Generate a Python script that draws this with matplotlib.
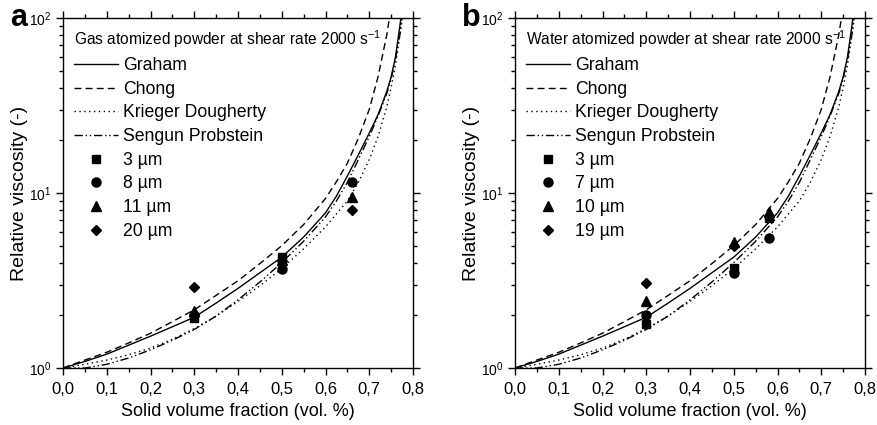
import matplotlib
matplotlib.use('Agg')
import matplotlib.pyplot as plt
from matplotlib.ticker import MultipleLocator, FuncFormatter, LogLocator

plt.rcParams['font.family'] = ['Liberation Sans', 'DejaVu Sans']
plt.rcParams['mathtext.default'] = 'regular'

# model curves, same in both panels
phi = [0, 0.05, 0.1, 0.15, 0.2, 0.25, 0.3, 0.35, 0.4, 0.45, 0.5, 0.55, 0.6,
       0.625, 0.65, 0.675, 0.7, 0.72, 0.74, 0.75, 0.76, 0.77, 0.78]
graham = [1.0, 1.09, 1.20, 1.35, 1.52, 1.72, 1.95, 2.35, 2.85, 3.5, 4.3, 5.6, 7.7,
          9.6, 12.5, 16.5, 22, 28, 38, 46, 60, 90, 140]
chong = [1.0, 1.11, 1.23, 1.39, 1.58, 1.84, 2.15, 2.6, 3.15, 3.95, 5.0, 6.6, 9.3,
         11.6, 14.8, 20.5, 30, 46, 80, 115, 170, 250, 400]
krieger = [1.0, 1.05, 1.11, 1.19, 1.30, 1.46, 1.68, 1.98, 2.4, 2.95, 3.7, 4.8, 6.4,
           7.6, 9.0, 11.5, 15.5, 21, 31, 40, 54, 80, 120]
sengun = [1.0, 1.0, 1.05, 1.14, 1.27, 1.44, 1.66, 1.98, 2.45, 3.1, 4.0, 5.3, 7.3,
          9.0, 11.5, 15.5, 21, 27.5, 37, 45, 58, 80, 125]

# measured points, gas atomized (a)
a_labels = ['3 \u00b5m', '8 \u00b5m', '11 \u00b5m', '20 \u00b5m']
a_x = [[0.3, 0.5], [0.3, 0.5, 0.66], [0.3, 0.5, 0.66], [0.3, 0.5, 0.66]]
a_y = [[1.93, 4.3], [2.0, 3.68, 11.6], [2.12, 4.15, 9.5], [2.9, 4.1, 8.0]]

# measured points, water atomized (b)
b_labels = ['3 \u00b5m', '7 \u00b5m', '10 \u00b5m', '19 \u00b5m']
b_x = [[0.3, 0.5, 0.58], [0.3, 0.5, 0.58], [0.3, 0.5, 0.58], [0.3, 0.5, 0.58]]
b_y = [[1.78, 3.73, 7.2], [2.01, 3.5, 5.5], [2.41, 5.25, 7.8], [3.06, 4.95, 7.4]]

markers = ['s', 'o', '^', 'D']
msizes = [5.5, 6.5, 6.5, 5.5]


def draw_panel(ax, title, labels, xs, ys, letter):
    ax.plot(phi, graham, '-', color='black', lw=1.0, label='Graham')
    ax.plot(phi, chong, color='black', lw=1.0, ls=(0, (5, 3)), label='Chong')
    ax.plot(phi, krieger, color='black', lw=1.0, ls=(0, (1, 2.5)), label='Krieger Dougherty')
    ax.plot(phi, sengun, color='black', lw=1.0, ls=(0, (6, 2, 1, 2, 1, 2)),
            label='Sengun Probstein')
    for lab, x, y, m, ms in zip(labels, xs, ys, markers, msizes):
        ax.plot(x, y, ls='none', marker=m, ms=ms, color='black', label=lab)

    ax.set_yscale('log')
    ax.set_xlim(0, 0.8)
    ax.set_ylim(1, 100)
    ax.xaxis.set_major_locator(MultipleLocator(0.1))
    ax.xaxis.set_minor_locator(MultipleLocator(0.05))
    ax.xaxis.set_major_formatter(FuncFormatter(lambda v, p: f'{v:.1f}'.replace('.', ',')))
    ax.yaxis.set_major_locator(LogLocator(base=10))
    ax.yaxis.set_minor_locator(LogLocator(base=10, subs=range(2, 10)))
    ax.tick_params(which='both', direction='out', top=True, right=True, width=1)
    ax.tick_params(which='major', length=5)
    ax.tick_params(which='minor', length=3)
    ax.tick_params(axis='x', labelsize=12, pad=5)
    ax.tick_params(axis='y', labelsize=10)
    for s in ax.spines.values():
        s.set_linewidth(1.0)
    ax.set_xlabel('Solid volume fraction (vol. %)', fontsize=13)
    ax.xaxis.set_label_coords(0.5, -0.1)
    ax.set_ylabel('Relative viscosity (-)', fontsize=14)
    ax.yaxis.set_label_coords(-0.1, 0.5)

    ax.legend(loc='upper left', frameon=False, fontsize=12.7, title=title,
              title_fontsize=11.2, alignment='left', handlelength=2.5,
              handletextpad=0.3, labelspacing=0.38, borderaxespad=0.2,
              numpoints=1)
    ax.text(-0.152, 1.0, letter, transform=ax.transAxes, fontsize=22,
            fontweight='bold', ha='left', va='center')


fig = plt.figure(figsize=(8.77, 4.25), dpi=100)
ax1 = fig.add_axes([63 / 877, 1 - 368 / 425, 350 / 877, 350 / 425])
ax2 = fig.add_axes([515 / 877, 1 - 368 / 425, 350 / 877, 350 / 425])

draw_panel(ax1, 'Gas atomized powder at shear rate 2000 s$^{-1}$', a_labels, a_x, a_y, 'a')
draw_panel(ax2, 'Water atomized powder at shear rate 2000 s$^{-1}$', b_labels, b_x, b_y, 'b')

fig.savefig('out.png', dpi=100)
